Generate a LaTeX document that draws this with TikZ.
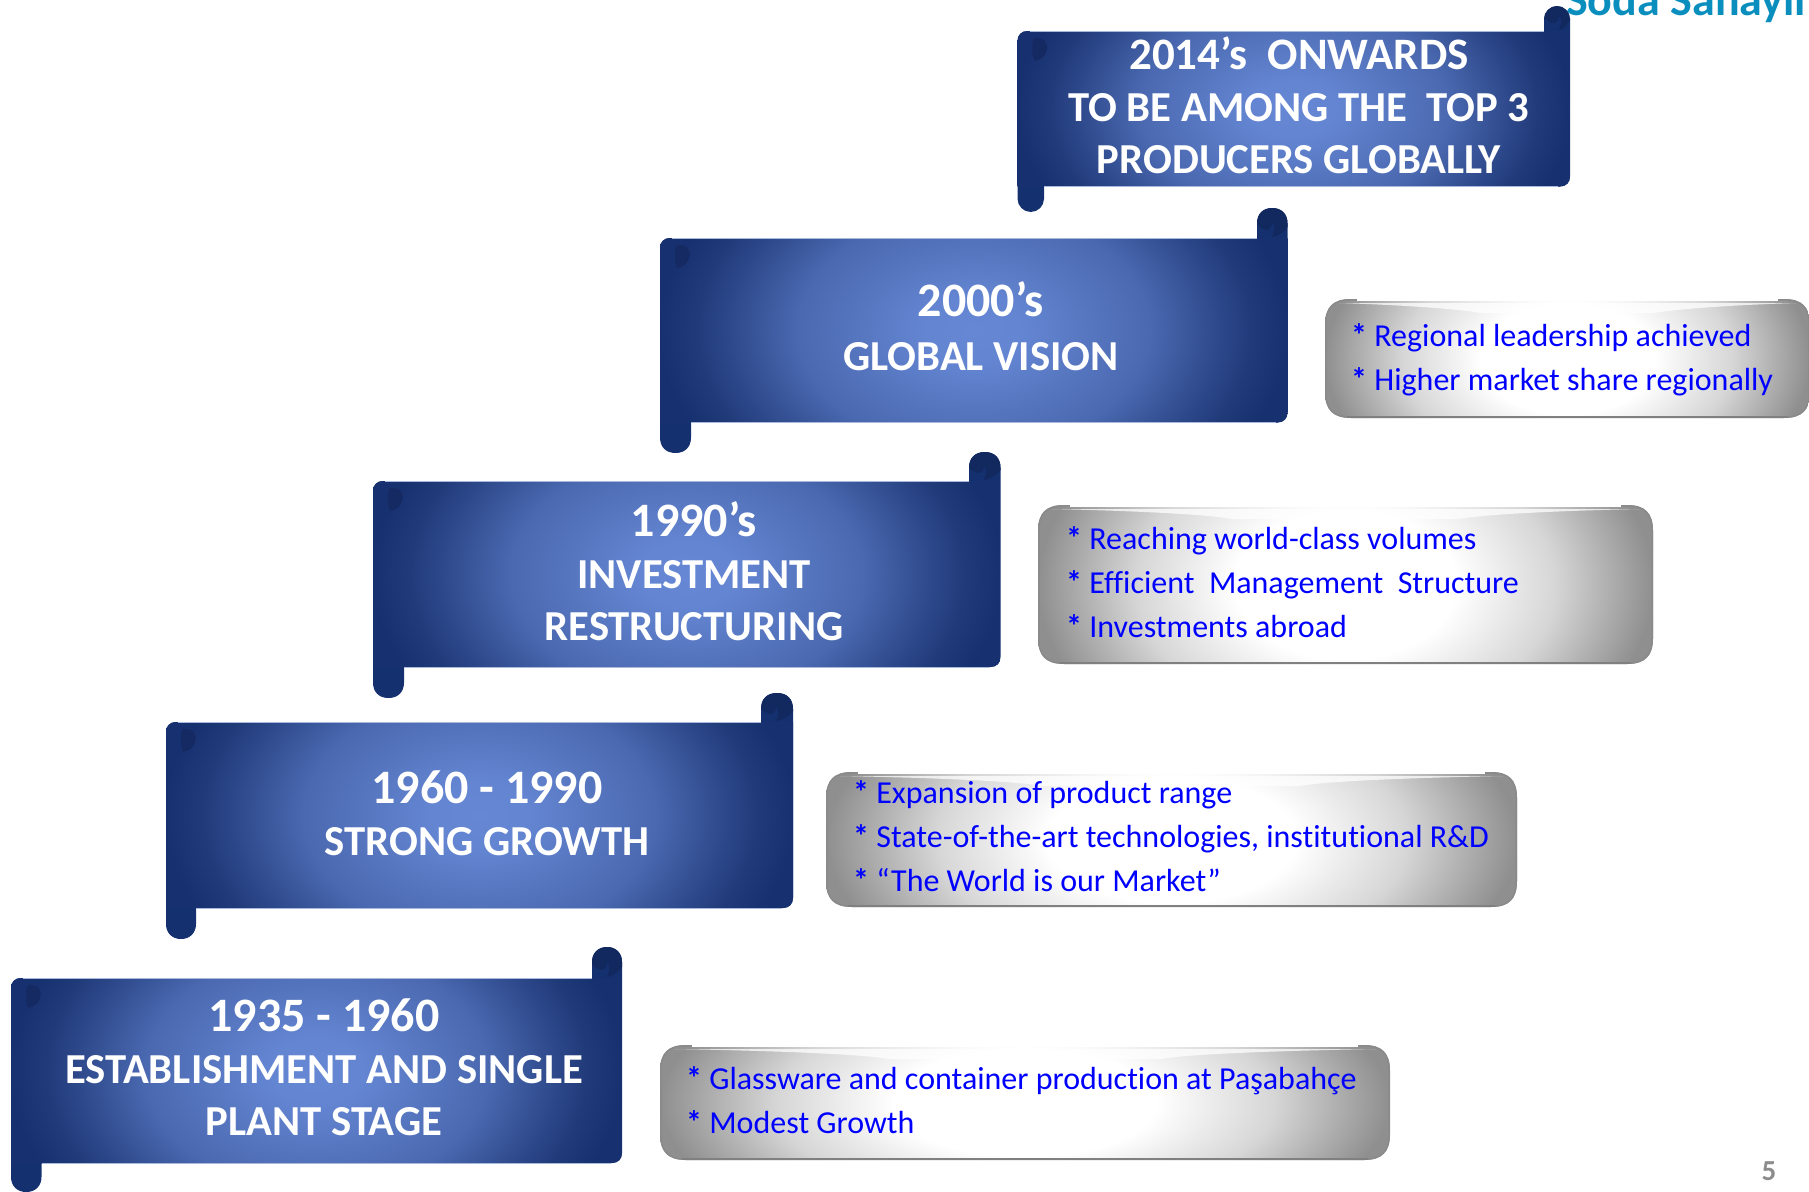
\documentclass[tikz,border=0pt]{standalone}
\usepackage{fontspec}
\setmainfont[Ligatures=NoCommon]{Carlito}
\usetikzlibrary{calc}
\definecolor{tailblue}{HTML}{15306F}
\definecolor{curlblue}{HTML}{12295F}
\definecolor{markblue}{HTML}{152A62}
\definecolor{edgeblue}{HTML}{A9B9DC}
\definecolor{boxedge}{HTML}{8A8A8A}
\definecolor{headteal}{HTML}{0A8EBE}
\definecolor{pagegray}{HTML}{8C8C8C}
\pgfdeclareradialshading{bannerglow}{\pgfpoint{0bp}{0bp}}{
 rgb(0bp)=(0.40,0.53,0.83); rgb(4bp)=(0.39,0.52,0.82); rgb(14bp)=(0.29,0.41,0.69);
 rgb(22bp)=(0.13,0.23,0.48); rgb(25bp)=(0.09,0.19,0.44); rgb(60bp)=(0.09,0.19,0.44)}
\pgfdeclareradialshading{boxglow}{\pgfpoint{0bp}{0bp}}{
 rgb(0bp)=(1,1,1); rgb(9bp)=(1,1,1); rgb(17bp)=(0.84,0.84,0.84);
 rgb(25bp)=(0.56,0.56,0.56); rgb(60bp)=(0.56,0.56,0.56)}
\tikzset{
 bannertext/.style={text=white,align=center,inner sep=0pt,
   font=\bfseries\fontsize{42.7}{#1}\selectfont},
 boxtext/.style={text=blue,align=left,anchor=west,inner sep=0pt,
   font=\fontsize{32}{44}\selectfont},
}
\newcommand{\yr}{\fontsize{48}{52}\selectfont}
\newcommand{\st}{{\bfseries *}}
% #1 x0  #2 x1  #3 y0  #4 y1  #5 tail x  #6 tail bottom  #7 curl x  #8 curl top
\newcommand{\scrollbanner}[8]{%
 \pgfmathsetmacro{\yc}{(#3+#4)/2}%
 \pgfmathsetmacro{\ysa}{\yc-2.3*(#4-#3)/2}%
 \pgfmathsetmacro{\ysb}{\yc+2.3*(#4-#3)/2}%
 \pgfmathsetmacro{\cw}{(#2-#7)/2}%
 \pgfmathsetmacro{\tw}{(#5-#1)/2}%
 \def\outline{(#1+10,#3) -- (#7,#3) -- (#7,#8+\cw)
   .. controls (#7,#8+6) and (#7+6,#8) .. (#7+\cw,#8)
   .. controls (#2-6,#8) and (#2,#8+6) .. (#2,#8+\cw)
   -- (#2,#4-10) .. controls (#2,#4-4) and (#2-4,#4) .. (#2-10,#4)
   -- (#5,#4) -- (#5,#6-\tw)
   .. controls (#5,#6-6) and (#5-6,#6) .. (#5-\tw,#6)
   .. controls (#1+6,#6) and (#1,#6-6) .. (#1,#6-\tw)
   -- (#1,#3+10) .. controls (#1,#3+4) and (#1+4,#3) .. (#1+10,#3) -- cycle}%
 \fill[tailblue] \outline;
 \begin{scope}
  \clip (#1,#3) rectangle (#2,#4);
  \clip \outline;
  \shade[shading=bannerglow] (#1,\ysa) rectangle (#2,\ysb);
 \end{scope}
 \draw[edgeblue,line width=0.8pt] (#1+12,#3) -- (#7,#3);
 \draw[edgeblue,line width=0.8pt] (#5,#4) -- (#2-12,#4);
 \fill[curlblue] (#7,#3-13) -- (#7,#8+\cw)
   .. controls (#7,#8+6) and (#7+6,#8) .. (#7+\cw,#8)
   .. controls (#2-6,#8) and (#2,#8+6) .. (#2,#8+\cw)
   -- (#2,#3-11) .. controls (#2-4,#3-5) and (#7+20,#3-2) .. (#7+15,#3-1)
   .. controls (#7+17,#3-6) and (#7+19,#3-12) .. (#7+15,#3-15)
   .. controls (#7+15,#3-11) and (#7+12,#3-8) .. (#7+10,#3-8)
   .. controls (#7+6,#3-8) and (#7+3,#3-11) .. (#7,#3-13) -- cycle;
 \fill[markblue] (#1+17,#3+7) .. controls (#1+26,#3+6) and (#1+32,#3+12) .. (#1+29,#3+20)
   .. controls (#1+28,#3+25) and (#1+23,#3+29) .. (#1+17,#3+30)
   .. controls (#1+14,#3+22) and (#1+14,#3+12) .. (#1+17,#3+7) -- cycle;
}
% #1 x0  #2 x1  #3 y0  #4 y1
\newcommand{\glossbox}[4]{%
 \pgfmathsetmacro{\yc}{(#3+#4)/2}%
 \pgfmathsetmacro{\ysa}{\yc-2.6*(#4-#3)/2}%
 \pgfmathsetmacro{\ysb}{\yc+2.6*(#4-#3)/2}%
 \pgfmathsetmacro{\xca}{#1+0.3*(#2-#1)}%
 \pgfmathsetmacro{\xcb}{#1+0.7*(#2-#1)}%
 \def\rbox{(#1+26,#3) -- (#2-26,#3) .. controls (#2-8,#3) and (#2,#3+8) .. (#2,#3+26)
   -- (#2,#4-26) .. controls (#2,#4-8) and (#2-8,#4) .. (#2-26,#4)
   -- (#1+26,#4) .. controls (#1+8,#4) and (#1,#4-8) .. (#1,#4-26)
   -- (#1,#3+26) .. controls (#1,#3+8) and (#1+8,#3) .. (#1+26,#3) -- cycle}%
 \begin{scope}
  \clip \rbox;
  \shade[shading=boxglow] (#1,\ysa) rectangle (#2,\ysb);
  \fill[white,opacity=0.75] (#1+14,#3+4) -- (#2-14,#3+4)
     .. controls (\xcb+40,#3+7) and (\xcb,#3+12) .. (\xcb-10,#3+14)
     -- (\xca+10,#3+14)
     .. controls (\xca,#3+12) and (\xca-40,#3+7) .. (#1+14,#3+4) -- cycle;
  \draw[boxedge,line width=3pt] \rbox;
  \draw[white,line width=3pt] (#1+32,#3) -- (#2-32,#3);
  \draw[black!50,line width=2pt] (#1+22,#4-1) -- (#2-22,#4-1);
 \end{scope}
}
\begin{document}
\begin{tikzpicture}[x=1pt,y=-1pt]
\useasboundingbox (0,0) rectangle (1809,1191);
\clip (0,0) rectangle (1809,1191);
\node[anchor=base west,inner sep=0pt,text=headteal,font=\bfseries\fontsize{46}{50}\selectfont] (header) at (1566,16) {Soda Sanayii A};

\scrollbanner{1017.5}{1570}{31}{186.5}{1044}{212}{1544}{6}
\scrollbanner{660}{1287.5}{238}{422.5}{691}{453}{1257}{208}
\scrollbanner{373}{1000.5}{481}{667}{404}{698}{969}{452}
\scrollbanner{166}{793}{722}{908}{196}{939}{761}{693}
\scrollbanner{11}{622}{978}{1163}{41.5}{1192}{592}{947}

\node[bannertext=52] (b5) at (1299,105.5) {\fontsize{45}{52}\selectfont 2014’s\ \ ONWARDS\\TO BE AMONG THE\ \ TOP 3\\PRODUCERS GLOBALLY};
\node[bannertext=54] (b4) at (981,326) {\yr 2000’s\\GLOBAL VISION};
\node[bannertext=52] (b3) at (694,571) {\yr 1990’s\\INVESTMENT\\RESTRUCTURING};
\node[bannertext=52] (b2) at (487,813) {\yr 1960 - 1990\\STRONG GROWTH};
\node[bannertext=52] (b1) at (324,1067) {\yr 1935 - 1960\\ESTABLISHMENT AND SINGLE\\PLANT STAGE};

\glossbox{1325}{1810}{299}{418}
\glossbox{1038}{1653}{505}{664}
\glossbox{826}{1517}{772}{907}
\glossbox{660}{1390}{1045}{1160}

\node[boxtext] (g4) at (1351,360) {\st\ Regional leadership achieved\\\st\ Higher market share regionally};
\node[boxtext] (g3) at (1066,582) {\st\ Reaching world-class volumes\\\st\ Efficient\ \ Management\ \ Structure\\\st\ Investments abroad};
\node[boxtext] (g2) at (853,836) {\st\ Expansion of product range\\\st\ State-of-the-art technologies, institutional R\&D\\\st\ “The World is our Market”};
\node[boxtext] (g1) at (686,1100) {\st\ Glassware and container production at Paşabahçe\\\st\ Modest Growth};

\node[anchor=center,inner sep=0pt,text=pagegray,font=\bfseries\fontsize{29}{32}\selectfont] (page) at (1769,1171) {5};
\end{tikzpicture}
\end{document}
